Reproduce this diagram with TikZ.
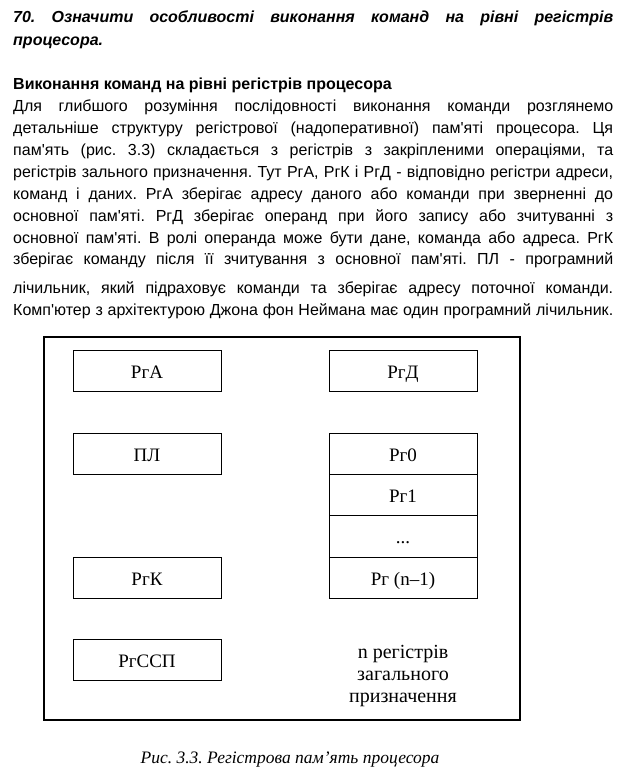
\documentclass[tikz,border=0pt]{standalone}
\usepackage{fontspec}
\newfontfamily\txtfont{Liberation Sans}
\newfontfamily\figfont{Liberation Serif}
\begin{document}
\frenchspacing
\begin{tikzpicture}[x=1pt,y=-1pt,
  para/.style={anchor=base west,inner sep=0pt,font=\txtfont\fontsize{16}{22}\selectfont},
  reg/.style={draw,line width=0.9pt,minimum width=148pt,minimum height=41pt,inner sep=0pt,
    text height=15pt,text depth=0pt,font=\figfont\fontsize{19}{22}\selectfont},
  lbl/.style={anchor=base,inner sep=0pt,font=\figfont\fontsize{20}{22}\selectfont}]
\useasboundingbox (0,0) rectangle (637,782);
\fill[white] (0,0) rectangle (637,782);
\def\W{600pt}
\node[para] (t1) at (13,22.7) {\makebox[\W][s]{\bfseries\itshape 70. Означити особливості виконання команд на рівні регістрів}};
\node[para] (t2) at (13,45) {\bfseries\itshape процесора.};
\node[para] (h) at (13,89) {\bfseries Виконання команд на рівні регістрів процесора};
\node[para] (p1) at (13,111) {\makebox[\W][s]{Для глибшого розуміння послідовності виконання команди розглянемо}};
\node[para] (p2) at (13,133) {\makebox[\W][s]{детальніше структуру регістрової (надоперативної) пам'яті процесора. Ця}};
\node[para] (p3) at (13,155) {\makebox[\W][s]{пам'ять (рис. 3.3) складається з регістрів з закріпленими операціями, та}};
\node[para] (p4) at (13,177) {\makebox[\W][s]{регістрів зального призначення. Тут РгА, РгК і РгД - відповідно регістри адреси,}};
\node[para] (p5) at (13,199) {\makebox[\W][s]{команд і даних. РгА зберігає адресу даного або команди при зверненні до}};
\node[para] (p6) at (13,221) {\makebox[\W][s]{основної пам'яті. РгД зберігає операнд при його запису або зчитуванні з}};
\node[para] (p7) at (13,243) {\makebox[\W][s]{основної пам'яті. В ролі операнда може бути дане, команда або адреса. РгК}};
\node[para] (p8) at (13,264.5) {\makebox[\W][s]{зберігає команду після її зчитування з основної пам'яті. ПЛ - програмний}};
\node[para] (p9) at (13,293) {\makebox[\W][s]{лічильник, який підраховує команди та зберігає адресу поточної команди.}};
\node[para] (p10) at (13,315) {\makebox[\W][s]{Комп'ютер з архітектурою Джона фон Неймана має один програмний лічильник.}};
% figure
\draw[line width=2pt] (43.5,337) rectangle (519.5,720);
\node[reg] (rga) at (147,370.5) {РгА};
\node[reg] (pl) at (147,453.5) {ПЛ};
\node[reg] (rgk) at (147,577.5) {РгК};
\node[reg] (rgssp) at (147,660) {РгССП};
\node[reg] (rgd) at (403,370.5) {РгД};
\node[reg] (r0) at (403,453.5) {Рг0};
\node[reg] (r1) at (403,494.5) {Рг1};
\node[reg,minimum height=42pt] (rd) at (403,536) {...};
\node[reg] (rn) at (403,577.5) {Рг (n–1)};
\node[lbl] (n1) at (403,658) {n регістрів};
\node[lbl] (n2) at (403,680) {загального};
\node[lbl] (n3) at (403,702) {призначення};
\node[anchor=base,inner sep=0pt,font=\figfont\itshape\fontsize{17.5}{20}\selectfont] (cap) at (290,763) {Рис. 3.3. Регістрова пам’ять процесора};
\end{tikzpicture}
\end{document}
